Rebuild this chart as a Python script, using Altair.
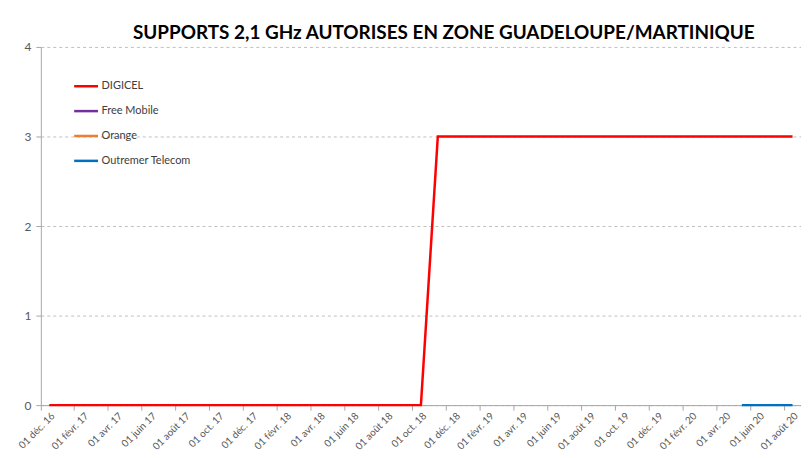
import altair as alt
import pandas as pd

# Monthly observations (one per month) from Dec 2016 to Aug 2020
months = [
    "2016-12",
    "2017-01", "2017-02", "2017-03", "2017-04", "2017-05", "2017-06",
    "2017-07", "2017-08", "2017-09", "2017-10", "2017-11", "2017-12",
    "2018-01", "2018-02", "2018-03", "2018-04", "2018-05", "2018-06",
    "2018-07", "2018-08", "2018-09", "2018-10", "2018-11", "2018-12",
    "2019-01", "2019-02", "2019-03", "2019-04", "2019-05", "2019-06",
    "2019-07", "2019-08", "2019-09", "2019-10", "2019-11", "2019-12",
    "2020-01", "2020-02", "2020-03", "2020-04", "2020-05", "2020-06",
    "2020-07", "2020-08",
]

digicel = [
    0,
    0, 0, 0, 0, 0, 0, 0, 0, 0, 0, 0, 0,
    0, 0, 0, 0, 0, 0, 0, 0, 0, 0, 3, 3,
    3, 3, 3, 3, 3, 3, 3, 3, 3, 3, 3, 3,
    3, 3, 3, 3, 3, 3, 3, 3,
]
free_mobile = [None] * 45
orange = [None] * 45
outremer_telecom = [
    None,
    None, None, None, None, None, None, None, None, None, None, None, None,
    None, None, None, None, None, None, None, None, None, None, None, None,
    None, None, None, None, None, None, None, None, None, None, None, None,
    None, None, None, None, 0, 0, 0, 0,
]

series_names = ["DIGICEL", "Free Mobile", "Orange", "Outremer Telecom"]
series_colors = ["#FF0000", "#7030A0", "#ED7D31", "#0070C0"]

# x tick months, every two months
tick_months = [
    "2016-12", "2017-02", "2017-04", "2017-06", "2017-08", "2017-10", "2017-12",
    "2018-02", "2018-04", "2018-06", "2018-08", "2018-10", "2018-12",
    "2019-02", "2019-04", "2019-06", "2019-08", "2019-10", "2019-12",
    "2020-02", "2020-04", "2020-06", "2020-08",
]
month_names_fr = ["janv.", "févr.", "mars", "avr.", "mai", "juin",
                  "juil.", "août", "sept.", "oct.", "nov.", "déc."]
y_ticks = [0, 1, 2, 3, 4]
title_text = "SUPPORTS 2,1 GHz AUTORISES EN ZONE GUADELOUPE/MARTINIQUE"

rows = []
for name, vals in zip(series_names, [digicel, free_mobile, orange, outremer_telecom]):
    for m, v in zip(months, vals):
        if v is not None:
            rows.append({"month": m, "value": v, "series": name})
df = pd.DataFrame(rows)

names_js = "[" + ",".join("'" + n + "'" for n in month_names_fr) + "]"
label_expr = (
    "'01 ' + " + names_js + "[toNumber(substring(datum.value, 5, 7)) - 1]"
    " + ' ' + substring(datum.value, 2, 4)"
)

chart = (
    alt.Chart(df)
    .mark_line(strokeWidth=2.5)
    .encode(
        x=alt.X(
            "month:O",
            scale=alt.Scale(type="band", domain=months, paddingInner=0, paddingOuter=0),
            axis=alt.Axis(
                values=tick_months,
                labelExpr=label_expr,
                bandPosition=0,
                labelAngle=-45,
                labelAlign="right",
                labelBaseline="middle",
                labelOffset=4,
                labelPadding=4,
                tickSize=5,
                grid=False,
                title=None,
                domainColor="#A6A6A6",
                tickColor="#A6A6A6",
                labelFont="Lato",
                labelFontSize=10,
                labelColor="#595959",
                labelOverlap=False,
                labelFlush=False,
            ),
        ),
        y=alt.Y(
            "value:Q",
            scale=alt.Scale(domain=[0, 4]),
            axis=alt.Axis(
                values=y_ticks,
                format="d",
                grid=True,
                gridDash=[3, 3],
                gridColor="#BFBFBF",
                tickSize=5,
                tickColor="#A6A6A6",
                domainColor="#A6A6A6",
                labelFont="Lato",
                labelFontSize=12,
                labelColor="#595959",
                labelPadding=5,
                title=None,
            ),
        ),
        color=alt.Color(
            "series:N",
            scale=alt.Scale(domain=series_names, range=series_colors),
            legend=alt.Legend(
                orient="none",
                legendX=32,
                legendY=26,
                direction="vertical",
                title=None,
                symbolType="stroke",
                symbolSize=576,
                symbolStrokeWidth=2.5,
                labelFont="Lato",
                labelFontSize=11,
                labelColor="#404040",
                labelOffset=2,
                rowPadding=6,
            ),
        ),
    )
    .properties(
        width=764,
        height=360,
        title=alt.Title(
            title_text,
            font="Lato",
            fontSize=19,
            fontWeight="bold",
            color="#000000",
            anchor="middle",
            dx=23,
            dy=10,
            offset=8,
        ),
        autosize="none",
        padding={"left": 33, "top": 38, "right": 0, "bottom": 50},
    )
    .configure_view(stroke="transparent")
)

chart.save("out.html", embed_options={"renderer": "svg", "actions": False})
